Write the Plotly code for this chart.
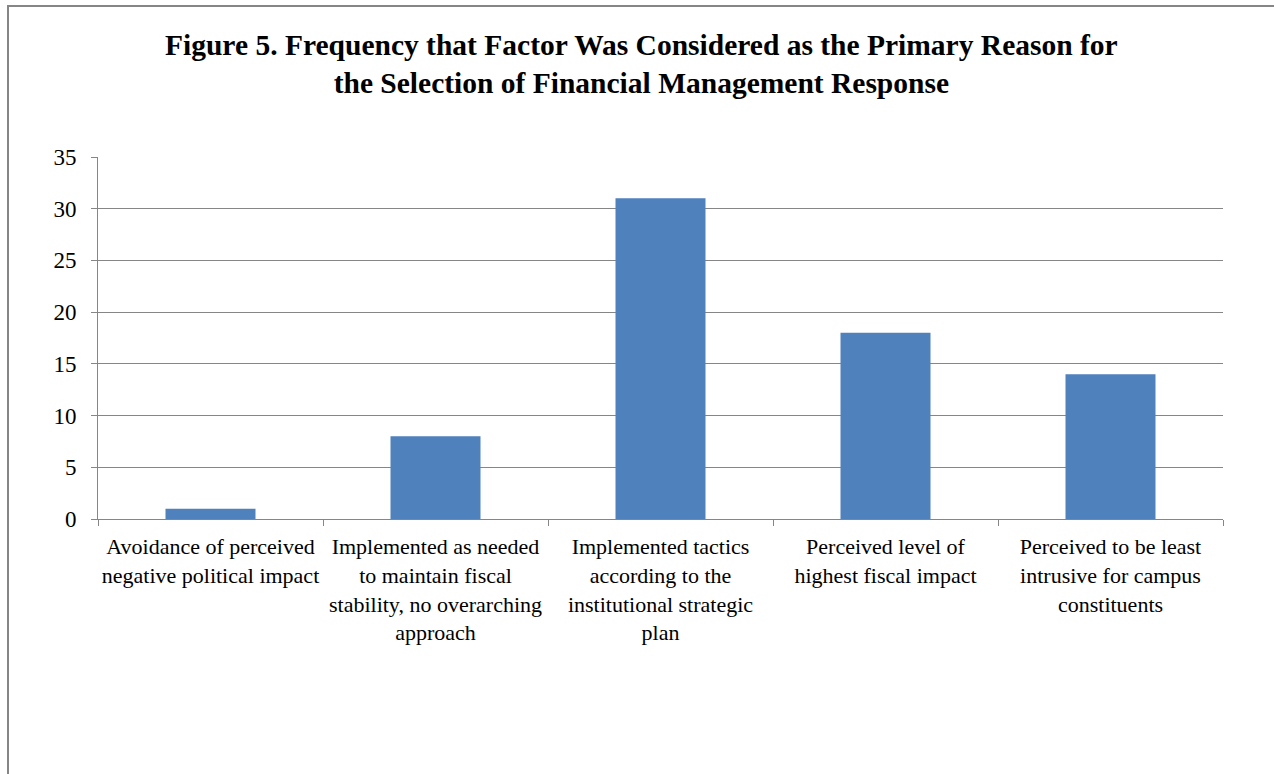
import plotly.graph_objects as go

# Categories (reasons) and how often each was cited as the primary reason
categories = [
    "Avoidance of perceived<br>negative political impact",
    "Implemented as needed<br>to maintain fiscal<br>stability, no overarching<br>approach",
    "Implemented tactics<br>according to the<br>institutional strategic<br>plan",
    "Perceived level of<br>highest fiscal impact",
    "Perceived to be least<br>intrusive for campus<br>constituents",
]
frequency = [1, 8, 31, 18, 14]
y_ticks = [0, 5, 10, 15, 20, 25, 30, 35]

W, H = 1274, 774
L, R, T, B = 98, 51, 157, 255
plot_w = W - L - R
plot_h = H - T - B

SERIF = "Times New Roman, Liberation Serif, serif"

fig = go.Figure(
    go.Bar(
        x=categories,
        y=frequency,
        marker=dict(color="#4F81BD", line=dict(width=0)),
        width=0.4,
    )
)

fig.update_layout(
    width=W,
    height=H,
    margin=dict(l=L, r=R, t=T, b=B),
    paper_bgcolor="white",
    plot_bgcolor="white",
    showlegend=False,
    font=dict(family=SERIF, color="#000000"),
    xaxis=dict(
        showgrid=False,
        showline=True,
        linecolor="#868686",
        linewidth=1,
        ticks="outside",
        tickson="boundaries",
        ticklen=6,
        tickcolor="#868686",
        tickfont=dict(family=SERIF, size=22, color="#000000"),
        tickangle=0,
        ticklabelstandoff=8,
    ),
    yaxis=dict(
        range=[0, 35],
        tickvals=y_ticks,
        showgrid=True,
        gridcolor="#868686",
        gridwidth=1,
        showline=True,
        linecolor="#868686",
        linewidth=1,
        ticks="outside",
        ticklen=6,
        tickcolor="#868686",
        tickfont=dict(family=SERIF, size=23, color="#000000"),
        zeroline=False,
        ticklabelstandoff=10,
    ),
    bargap=0.6,
)

# Two-line bold title
fig.add_annotation(
    text="<b>Figure 5. Frequency that Factor Was Considered as the Primary Reason for<br>the Selection of Financial Management Response</b>",
    xref="paper",
    yref="paper",
    x=(641 - L) / plot_w,
    y=(H - B - 64) / plot_h,
    xanchor="center",
    yanchor="middle",
    showarrow=False,
    align="center",
    font=dict(family=SERIF, size=29.5, color="#000000"),
)

# Outer chart frame
fig.add_shape(
    type="rect",
    xref="paper",
    yref="paper",
    x0=(8 - L) / plot_w,
    x1=(W + 20 - L) / plot_w,
    y0=-(B + 20) / plot_h,
    y1=(H - 6 - B) / plot_h,
    line=dict(color="#868686", width=2),
    fillcolor="rgba(0,0,0,0)",
    layer="below",
)

fig.write_html("out.html")
